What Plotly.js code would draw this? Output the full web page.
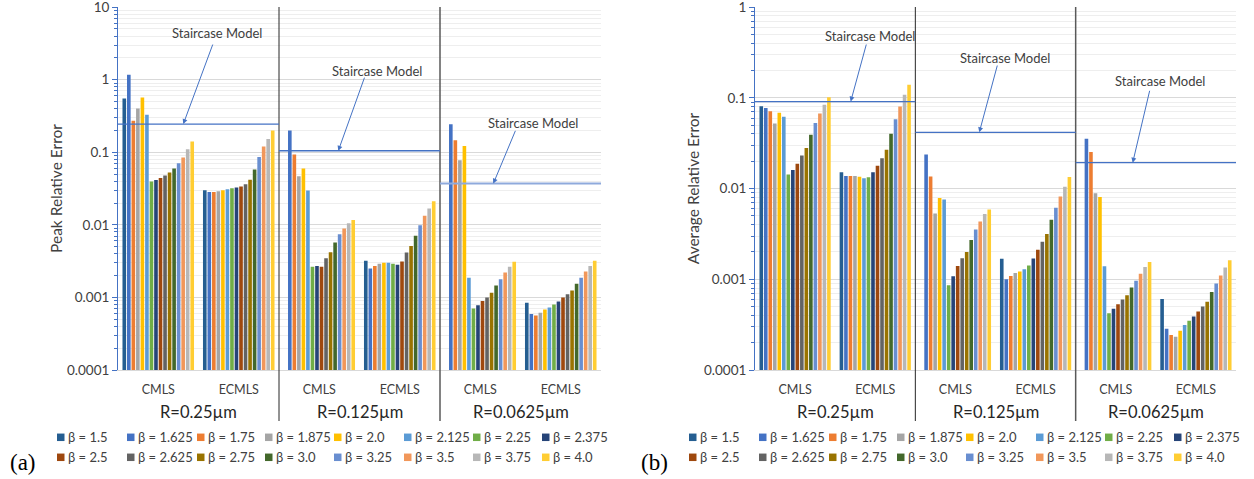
<!DOCTYPE html>
<html>
<head>
<meta charset="utf-8">
<script src="https://cdn.plot.ly/plotly-3.0.1.min.js"></script>
<style>
html,body{margin:0;padding:0;background:#ffffff;}
#chart{width:1254px;height:479px;}
</style>
</head>
<body>
<div id="chart"></div>
<script>
// ---------------- data ----------------
const betas = ['1.5','1.625','1.75','1.875','2.0','2.125','2.25','2.375',
               '2.5','2.625','2.75','3.0','3.25','3.5','3.75','4.0'];
const radii = ['R=0.25µm','R=0.125µm','R=0.0625µm'];
const methods = ['CMLS','ECMLS'];
const yTickVals = [0.0001, 0.001, 0.01, 0.1, 1, 10];
const yTickText = ['0.0001','0.001','0.01','0.1','1','10'];

// (a) Peak relative error, values in beta order
const peakCMLS_R0250  = [0.553, 1.17, 0.272, 0.40, 0.57, 0.33, 0.0395, 0.0416, 0.0443, 0.048, 0.0525, 0.060, 0.0705, 0.0845, 0.110, 0.141];
const peakECMLS_R0250 = [0.030, 0.0284, 0.0284, 0.029, 0.030, 0.031, 0.0319, 0.0327, 0.0337, 0.0363, 0.042, 0.058, 0.086, 0.120, 0.152, 0.200];
const peakCMLS_R0125  = [null, 0.200, 0.093, 0.0467, 0.0596, 0.0297, 0.00264, 0.0027, 0.00264, 0.00348, 0.0042, 0.0057, 0.00745, 0.0089, 0.0105, 0.0117];
const peakECMLS_R0125 = [0.00319, 0.0025, 0.00272, 0.0029, 0.0030, 0.0030, 0.0029, 0.00281, 0.00312, 0.00415, 0.0051, 0.0071, 0.0099, 0.0133, 0.0168, 0.0212];
const peakCMLS_R0625  = [null, 0.243, 0.146, 0.0776, 0.122, 0.00186, 0.000705, 0.00078, 0.00089, 0.0010, 0.00116, 0.00146, 0.00178, 0.0022, 0.00264, 0.0031];
const peakECMLS_R0625 = [0.000845, 0.000589, 0.000565, 0.000615, 0.000684, 0.000728, 0.0008, 0.00088, 0.0010, 0.00111, 0.00125, 0.00154, 0.00186, 0.00228, 0.00272, 0.0032];
const peakStaircase   = [0.245, 0.105, 0.037];

// (b) Average relative error, values in beta order
const avgCMLS_R0250  = [0.081, 0.0776, 0.0714, 0.0523, 0.0684, 0.0618, 0.0143, 0.016, 0.0188, 0.0231, 0.028, 0.0392, 0.0527, 0.0673, 0.0838, 0.1016];
const avgECMLS_R0250 = [0.0151, 0.0138, 0.0138, 0.0138, 0.0135, 0.0130, 0.0133, 0.0151, 0.0179, 0.0216, 0.0268, 0.0402, 0.0583, 0.0803, 0.108, 0.140];
const avgCMLS_R0125  = [null, 0.0237, 0.01355, 0.0053, 0.0079, 0.00757, 0.00086, 0.00108, 0.0014, 0.00171, 0.0020, 0.00271, 0.00355, 0.00434, 0.00523, 0.0059];
const avgECMLS_R0125 = [0.00168, 0.0010, 0.00109, 0.00117, 0.00122, 0.00129, 0.00142, 0.00169, 0.00212, 0.0026, 0.00315, 0.00453, 0.00614, 0.00817, 0.0105, 0.01345];
const avgCMLS_R0625  = [null, 0.0355, 0.0253, 0.0089, 0.0081, 0.00139, 0.000423, 0.000472, 0.000531, 0.000597, 0.000667, 0.00081, 0.000966, 0.00115, 0.00137, 0.00155];
const avgECMLS_R0625 = [0.000608, 0.000285, 0.000243, 0.000233, 0.000271, 0.000313, 0.000349, 0.000389, 0.000442, 0.0005, 0.000564, 0.000726, 0.000896, 0.0011, 0.00135, 0.00162];
const avgStaircase   = [0.091, 0.0417, 0.0193];

const staircaseLabel = 'Staircase Model';

// ---------------- styles ----------------
const seriesColors = ['#255E91','#4472C4','#ED7D31','#A5A5A5','#FFC000','#5B9BD5','#70AD47','#264478',
                      '#9E480E','#636363','#997300','#43682B','#698ED0','#F1975A','#B7B7B7','#FFCD33'];
const FONT = 'Lato, "Open Sans", sans-serif';
const TXT = '#404040';
const W = 1254, H = 479;
const px = v => v / W;
const py = v => 1 - v / H;

const categories = [];
radii.forEach(r => methods.forEach(m => categories.push(m + ' | ' + r)));
const catText = categories.map(c => c.split(' | ')[0]);

const panels = [
  { groups: [peakCMLS_R0250, peakECMLS_R0250, peakCMLS_R0125, peakECMLS_R0125, peakCMLS_R0625, peakECMLS_R0625],
    stair: peakStaircase, xa: 'x', ya: 'y', xdom: [118, 601], yrange: [-4, 1.002], title: 'Peak Relative Error',
    stairStyle: [{c:'#4472C4', w:1.3}, {c:'#4472C4', w:1.3}, {c:'#8FAADC', w:2}],
    arrows: [ {tip:183.3, ax:30, ay:-81, tx:217, ty:33},
              {tip:338.3, ax:26.7, ay:-74.6, tx:377, ty:70.7},
              {tip:493.3, ax:22.7, ay:-54.3, tx:533, ty:122.7} ],
    letter: '(a)', letterX: 22.5, legendX: 57 },
  { groups: [avgCMLS_R0250, avgECMLS_R0250, avgCMLS_R0125, avgECMLS_R0125, avgCMLS_R0625, avgECMLS_R0625],
    stair: avgStaircase, xa: 'x2', ya: 'y2', xdom: [755, 1236], yrange: [-4, 0.002], title: 'Average Relative Error',
    stairStyle: [{c:'#4472C4', w:1.3}, {c:'#4472C4', w:1.3}, {c:'#4472C4', w:1.3}],
    arrows: [ {tip:850.7, ax:16, ay:-58.6, tx:870, ty:35.7},
              {tip:979.3, ax:18.4, ay:-68.3, tx:1004.7, ty:58},
              {tip:1132.7, ax:17.3, ay:-73.4, tx:1160, ty:80.7} ],
    letter: '(b)', letterX: 654.5, legendX: 689 }
];

const legendColOffsets = [0, 70, 140, 208, 277, 347, 416, 485];
const legendRowY = [437.3, 457.3];

const traces = [];
const shapes = [];
const annotations = [];
const layout = {
  width: W, height: H,
  margin: {l: 0, r: 0, t: 0, b: 0},
  paper_bgcolor: '#ffffff', plot_bgcolor: '#ffffff',
  barmode: 'group', bargap: 0.1, bargroupgap: 0.2,
  showlegend: false, hovermode: 'closest',
  font: {family: FONT, color: TXT}
};

panels.forEach((p, pi) => {
  betas.forEach((b, k) => {
    traces.push({
      type: 'bar', name: 'β = ' + b,
      x: categories, y: p.groups.map(g => g[k]),
      xaxis: p.xa, yaxis: p.ya,
      marker: {color: seriesColors[k], line: {width: 0}},
      showlegend: false
    });
  });
  const xKey = pi === 0 ? 'xaxis' : 'xaxis2';
  const yKey = pi === 0 ? 'yaxis' : 'yaxis2';
  layout[xKey] = {
    domain: [px(p.xdom[0]), px(p.xdom[1])], anchor: p.ya,
    type: 'category', categoryorder: 'array', categoryarray: categories,
    tickmode: 'array', tickvals: categories, ticktext: catText,
    ticks: '', showgrid: false, zeroline: false,
    showline: true, linecolor: '#D9D9D9', linewidth: 1,
    tickfont: {family: FONT, size: 12.5, color: TXT}, ticklabelstandoff: 8,
    fixedrange: true
  };
  layout[yKey] = {
    domain: [py(370), py(7)], anchor: p.xa,
    type: 'log', range: p.yrange,
    tickmode: 'array', tickvals: yTickVals, ticktext: yTickText,
    ticks: 'outside', ticklen: 5, tickcolor: '#4472C4', tickwidth: 1,
    ticklabeloverflow: 'allow',
    showline: true, linecolor: '#4472C4', linewidth: 1,
    showgrid: true, gridcolor: '#D9D9D9', gridwidth: 1, zeroline: false,
    minor: {ticks: 'outside', ticklen: 3, tickcolor: '#4472C4', showgrid: true, gridcolor: '#EEEEEE', dtick: 'D1'},
    tickfont: {family: FONT, size: 13.5, color: TXT},
    title: {text: p.title, font: {family: FONT, size: 15.5, color: TXT}, standoff: 0},
    fixedrange: true
  };
  const xdomRef = p.xa + ' domain';
  // region separators
  [1/3, 2/3].forEach((f, si) => {
    shapes.push({type: 'line', xref: xdomRef, yref: 'paper', x0: f, x1: f, y0: py(421), y1: py(7),
                 line: {color: si === 0 ? '#262626' : '#595959', width: si === 0 ? 1 : 1.5}});
  });
  // staircase lines, R labels, staircase annotations
  p.stair.forEach((v, i) => {
    shapes.push({type: 'line', xref: xdomRef, yref: p.ya, x0: i/3, x1: (i+1)/3, y0: v, y1: v,
                 line: {color: p.stairStyle[i].c, width: p.stairStyle[i].w}});
    annotations.push({xref: xdomRef, yref: 'paper', x: (i + 0.5)/3, y: py(412), text: radii[i],
                      showarrow: false, xanchor: 'center', yanchor: 'middle',
                      font: {family: FONT, size: 16.5, color: '#262626'}});
    const a = p.arrows[i];
    annotations.push({xref: 'paper', yref: p.ya, x: px(a.tip), y: Math.log10(v), text: '',
                      showarrow: true, arrowhead: 2, arrowsize: 1, arrowwidth: 1, arrowcolor: '#4472C4',
                      axref: 'pixel', ayref: 'pixel', ax: a.ax, ay: a.ay, standoff: 0, startstandoff: 0});
    annotations.push({xref: 'paper', yref: 'paper', x: px(a.tx), y: py(a.ty), text: staircaseLabel,
                      showarrow: false, xanchor: 'center', yanchor: 'middle',
                      font: {family: FONT, size: 13, color: TXT}});
  });
  // panel letter
  annotations.push({xref: 'paper', yref: 'paper', x: px(p.letterX), y: py(462), text: p.letter,
                    showarrow: false, xanchor: 'center', yanchor: 'middle',
                    font: {family: '"Liberation Serif", "Times New Roman", serif', size: 23, color: '#000000'}});
  // manual legend (two rows of eight)
  betas.forEach((b, k) => {
    const row = Math.floor(k / 8), col = k % 8;
    const sx = p.legendX + legendColOffsets[col];
    const cy = legendRowY[row];
    shapes.push({type: 'rect', xref: 'paper', yref: 'paper',
                 x0: px(sx), x1: px(sx + 7.5), y0: py(cy + 3.75), y1: py(cy - 3.75),
                 fillcolor: seriesColors[k], line: {width: 0}});
    annotations.push({xref: 'paper', yref: 'paper', x: px(sx + 10), y: py(cy), text: 'β = ' + b,
                      showarrow: false, xanchor: 'left', yanchor: 'middle', borderpad: 0,
                      font: {family: FONT, size: 13, color: TXT}});
  });
});

layout.shapes = shapes;
layout.annotations = annotations;

Plotly.newPlot('chart', traces, layout, {displayModeBar: false, responsive: false});
</script>
</body>
</html>
